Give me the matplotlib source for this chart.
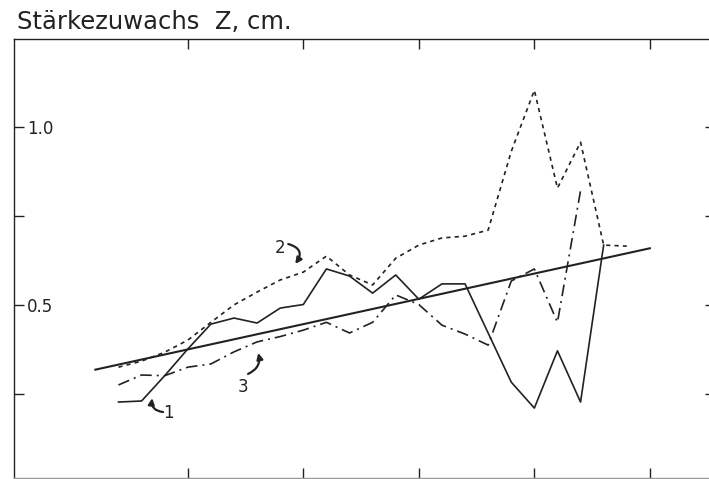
import matplotlib
matplotlib.use('Agg')
import matplotlib.pyplot as plt

# abscissa in steps (ticks every 5 steps)
x1 = list(range(2, 24))
x2 = list(range(2, 25))
x3 = list(range(2, 23))

# curve 1, solid
z1 = [0.226, 0.229, 0.30, 0.375, 0.445, 0.462, 0.448, 0.49, 0.50, 0.60, 0.58,
      0.532, 0.583, 0.515, 0.558, 0.558, 0.42, 0.282, 0.209, 0.37, 0.226, 0.667]
# curve 2, short dashes
z2 = [0.324, 0.341, 0.366, 0.40, 0.45, 0.499, 0.535, 0.569, 0.591, 0.636, 0.583,
      0.555, 0.63, 0.667, 0.687, 0.692, 0.709, 0.93, 1.102, 0.827, 0.956, 0.667, 0.664]
# curve 3, dash-dot
z3 = [0.274, 0.302, 0.30, 0.324, 0.333, 0.367, 0.395, 0.41, 0.428, 0.45, 0.42,
      0.45, 0.527, 0.50, 0.442, 0.417, 0.386, 0.566, 0.60, 0.45, 0.82]
# straight trend line
trend_x = [1, 25]
trend_y = [0.317, 0.658]

xticks = [5, 10, 15, 20, 25]
yticks = [0.25, 0.5, 0.75, 1.0]
ylabels = ['', '0.5', '', '1.0']

# curve labels: text position, arrow tail, arrow head, bend
lab_names = ['1', '2', '3']
lab_pos = [(4.15, 0.195), (9.0, 0.659), (7.4, 0.268)]
arrow_tail = [(3.93, 0.198), (9.35, 0.670), (7.61, 0.305)]
arrow_head = [(3.46, 0.237), (9.65, 0.614), (8.05, 0.364)]
arrow_bend = [-0.5, -0.7, 0.4]

ink = '#222222'

fig = plt.figure(figsize=(7.09, 4.79), dpi=100)
ax = fig.add_axes([0.02045, 0.0031, 0.9825, 0.9155])

ax.plot(x1, z1, color=ink, lw=1.2)
ax.plot(x2, z2, color=ink, lw=1.2, dashes=(2.5, 2.5))
ax.plot(x3, z3, color=ink, lw=1.2, dashes=(7, 3, 1.2, 3))
ax.plot(trend_x, trend_y, color=ink, lw=1.5)

ax.set_xlim(-2.5, 27.65)
ax.set_ylim(0.014, 1.246)
ax.set_xticks(xticks)
ax.set_xticklabels([])
ax.set_yticks(yticks)
ax.set_yticklabels(ylabels)
ax.tick_params(axis='both', direction='in', length=7, width=1.0, color=ink,
               top=True, right=True, labelsize=12, labelcolor=ink)
ax.tick_params(axis='y', pad=-9)
for t in ax.yaxis.get_major_ticks():
    t.tick2line.set_markersize(4)
for lab in ax.get_yticklabels():
    lab.set_horizontalalignment('left')
for sp in ax.spines.values():
    sp.set_color(ink)
    sp.set_linewidth(1.0)
ax.spines['bottom'].set_color('#999999')

for name, pos, tail, head, bend in zip(lab_names, lab_pos, arrow_tail,
                                       arrow_head, arrow_bend):
    ax.text(pos[0], pos[1], name, fontsize=12, color=ink, ha='center', va='center')
    ax.annotate('', xy=head, xytext=tail,
                arrowprops=dict(arrowstyle='-|>', color=ink, lw=1.6,
                                mutation_scale=9, shrinkA=0, shrinkB=0,
                                connectionstyle='arc3,rad=%s' % bend))

fig.text(0.024, 0.94, 'Stärkezuwachs  Z, cm.', fontsize=17.5, color=ink,
         ha='left', va='baseline')

fig.savefig('out.png', dpi=100)
